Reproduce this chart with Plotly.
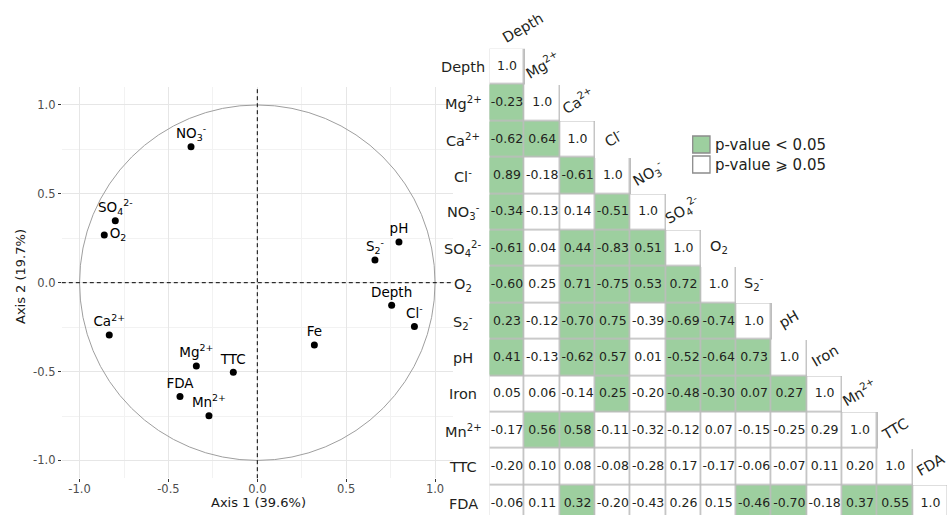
import plotly.graph_objects as go

# ---------------- data ----------------
# PCA correlation circle (variable loadings)
pca_labels = ["NO<sub>3</sub><sup>-</sup>", "SO<sub>4</sub><sup>2-</sup>", "O<sub>2</sub>", "pH",
              "S<sub>2</sub><sup>-</sup>", "Depth", "Cl<sup>-</sup>", "Fe", "Ca<sup>2+</sup>",
              "Mg<sup>2+</sup>", "TTC", "FDA", "Mn<sup>2+</sup>"]
pca_axis1 = [-0.373, -0.799, -0.861, 0.797, 0.662, 0.756, 0.884, 0.321, -0.833, -0.343, -0.135, -0.435, -0.272]
pca_axis2 = [0.765, 0.349, 0.268, 0.229, 0.128, -0.127, -0.247, -0.350, -0.294, -0.468, -0.504, -0.641, -0.748]

axis_tickvals = [-1.0, -0.5, 0.0, 0.5, 1.0]
axis_ticktext = ["-1.0", "-0.5", "0.0", "0.5", "1.0"]
axis1_title = "Axis 1 (39.6%)"
axis2_title = "Axis 2 (19.7%)"

# Correlation matrix (lower triangle) and significance (1 = p < 0.05)
var_names = ["Depth", "Mg<sup>2+</sup>", "Ca<sup>2+</sup>", "Cl<sup>-</sup>", "NO<sub>3</sub><sup>-</sup>",
             "SO<sub>4</sub><sup>2-</sup>", "O<sub>2</sub>", "S<sub>2</sub><sup>-</sup>", "pH", "Iron",
             "Mn<sup>2+</sup>", "TTC", "FDA"]
corr_rows = [
    [1.0],
    [-0.23, 1.0],
    [-0.62, 0.64, 1.0],
    [0.89, -0.18, -0.61, 1.0],
    [-0.34, -0.13, 0.14, -0.51, 1.0],
    [-0.61, 0.04, 0.44, -0.83, 0.51, 1.0],
    [-0.60, 0.25, 0.71, -0.75, 0.53, 0.72, 1.0],
    [0.23, -0.12, -0.70, 0.75, -0.39, -0.69, -0.74, 1.0],
    [0.41, -0.13, -0.62, 0.57, 0.01, -0.52, -0.64, 0.73, 1.0],
    [0.05, 0.06, -0.14, 0.25, -0.20, -0.48, -0.30, 0.07, 0.27, 1.0],
    [-0.17, 0.56, 0.58, -0.11, -0.32, -0.12, 0.07, -0.15, -0.25, 0.29, 1.0],
    [-0.20, 0.10, 0.08, -0.08, -0.28, 0.17, -0.17, -0.06, -0.07, 0.11, 0.20, 1.0],
    [-0.06, 0.11, 0.32, -0.20, -0.43, 0.26, 0.15, -0.46, -0.70, -0.18, 0.37, 0.55, 1.0],
]
sig_rows = [
    [0],
    [1, 0],
    [1, 1, 0],
    [1, 0, 1, 0],
    [1, 0, 0, 1, 0],
    [1, 0, 1, 1, 1, 0],
    [1, 0, 1, 1, 1, 1, 0],
    [1, 0, 1, 1, 0, 1, 1, 0],
    [1, 0, 1, 1, 0, 1, 1, 1, 0],
    [0, 0, 0, 1, 0, 1, 1, 1, 1, 0],
    [0, 1, 1, 0, 0, 0, 0, 0, 0, 0, 0],
    [0, 0, 0, 0, 0, 0, 0, 0, 0, 0, 0, 0],
    [0, 0, 1, 0, 0, 0, 0, 1, 1, 0, 1, 1, 0],
]
legend_labels = ["p-value < 0.05", "p-value \u2a7e 0.05"]

# ---------------- style / geometry ----------------
W, H = 947, 515
FONT = "DejaVu Sans"
GREEN = "#9dcf9f"
BORDER = "#bdbdbd"

def px_x(p):
    return p / W

def px_y(p):
    return 1 - p / H

# PCA panel in pixels
P_LEFT, P_RIGHT, P_TOP, P_BOTTOM = 61.8, 452.8, 87.2, 478.2
# matrix geometry in pixels
M_LEFT, CELL_W, M_TOP, CELL_H = 489.3, 35.3, 48.5, 36.4
n = len(var_names)

text_pos = ["top center"] * len(pca_labels)
text_pos[2] = "middle right"

fig = go.Figure()

# ---- PCA loadings ----
fig.add_trace(go.Scatter(
    x=pca_axis1, y=pca_axis2, mode="markers+text",
    text=pca_labels, textposition=text_pos,
    textfont=dict(family=FONT, size=13.5, color="#000000"),
    marker=dict(size=7, color="#000000"),
    hoverinfo="skip", showlegend=False, cliponaxis=False,
    xaxis="x", yaxis="y",
))

# ---- correlation matrix ----
mask_z, sig_z = [], []
val_x, val_y, val_t = [], [], []
for i in range(n):
    mrow, srow = [], []
    for j in range(n):
        if j <= i:
            mrow.append(1)
            srow.append(sig_rows[i][j])
            v = corr_rows[i][j]
            val_x.append(j)
            val_y.append(i)
            val_t.append("1.0" if i == j else f"{v:.2f}")
        else:
            mrow.append(None)
            srow.append(None)
    mask_z.append(mrow)
    sig_z.append(srow)

idx = list(range(n))
fig.add_trace(go.Heatmap(
    z=mask_z, x=idx, y=idx, colorscale=[[0, BORDER], [1, BORDER]],
    zmin=0, zmax=1, showscale=False, hoverinfo="skip",
    xaxis="x2", yaxis="y2",
))
fig.add_trace(go.Heatmap(
    z=sig_z, x=idx, y=idx, colorscale=[[0, "#ffffff"], [1, GREEN]],
    zmin=0, zmax=1, showscale=False, hoverinfo="skip",
    xgap=1.6, ygap=1.6,
    xaxis="x2", yaxis="y2",
))
fig.add_trace(go.Scatter(
    x=val_x, y=val_y, text=val_t, mode="text",
    textfont=dict(family=FONT, size=12.5, color="#231f20"),
    hoverinfo="skip", showlegend=False, cliponaxis=True,
    xaxis="x2", yaxis="y2",
))

grid_major = "#e6e6e6"
grid_minor = "#f2f2f2"
common_axis = dict(
    range=[-1.1, 1.1], tickvals=axis_tickvals, ticktext=axis_ticktext,
    showgrid=True, gridcolor=grid_major, gridwidth=1,
    minor=dict(tickvals=[-0.75, -0.25, 0.25, 0.75], showgrid=True, gridcolor=grid_minor, gridwidth=0.8),
    zeroline=False, showline=False, ticks="outside", ticklen=3, tickwidth=1, tickcolor="#333333",
    tickfont=dict(family=FONT, size=11.5, color="#4d4d4d"),
)

fig.update_layout(
    width=W, height=H, margin=dict(l=0, r=0, t=0, b=0),
    paper_bgcolor="white", plot_bgcolor="white", showlegend=False,
    xaxis=dict(domain=[px_x(P_LEFT), px_x(P_RIGHT)], anchor="y", ticklabelstandoff=-3, **common_axis),
    yaxis=dict(domain=[px_y(P_BOTTOM), px_y(P_TOP)], anchor="x", **common_axis),
    xaxis2=dict(domain=[px_x(M_LEFT), 1], range=[-0.5, -0.5 + (W - M_LEFT) / CELL_W],
                visible=False, anchor="y2"),
    yaxis2=dict(domain=[0, px_y(M_TOP)], range=[-0.5 + (H - M_TOP) / CELL_H, -0.5],
                visible=False, anchor="x2"),
)

shapes = [
    dict(type="circle", xref="x", yref="y", x0=-1, y0=-1, x1=1, y1=1,
         line=dict(color="#9e9e9e", width=1)),
    dict(type="line", xref="x", yref="y domain", x0=0, x1=0, y0=0, y1=1,
         line=dict(color="#000000", width=1, dash="4px,3px")),
    dict(type="line", xref="x domain", yref="y", x0=0, x1=1, y0=0, y1=0,
         line=dict(color="#000000", width=1, dash="4px,3px")),
]
# legend keys
for k, col in enumerate([GREEN, "#ffffff"]):
    top = 136 + k * 20
    shapes.append(dict(type="rect", xref="paper", yref="paper",
                       x0=px_x(692.7), x1=px_x(710), y0=px_y(top + 17), y1=px_y(top),
                       fillcolor=col, line=dict(color="#8c8c8c", width=1.3)))
fig.update_layout(shapes=shapes)

ann = []
# axis titles
ann.append(dict(text=axis1_title, xref="paper", yref="paper", x=px_x(258), y=px_y(502),
                xanchor="center", yanchor="middle",
                showarrow=False, font=dict(family=FONT, size=13, color="#1a1a1a")))
ann.append(dict(text=axis2_title, xref="paper", yref="paper", x=px_x(20), y=px_y(277),
                xanchor="center", yanchor="middle",
                textangle=-90, showarrow=False, font=dict(family=FONT, size=13, color="#1a1a1a")))
# row labels
for i, name in enumerate(var_names):
    ann.append(dict(text=name, xref="paper", yref="y2", x=px_x(463), y=i,
                    xanchor="center", yanchor="middle",
                    showarrow=False, font=dict(family=FONT, size=14.5, color="#231f20")))
# column labels (above diagonal cells)
for j, name in enumerate(var_names):
    angle = 0 if j in (6, 7) else -30
    ycen = M_TOP + CELL_H * (j - 1) + CELL_H / 2
    ann.append(dict(text=name, xref="x2", yref="paper", x=j, y=px_y(ycen),
                    xanchor="center", yanchor="middle",
                    xshift=16 if j == 0 else 0, yshift=2, textangle=angle,
                    showarrow=False, font=dict(family=FONT, size=14.5, color="#231f20")))
# legend text
for k, lab in enumerate(legend_labels):
    ann.append(dict(text=lab, xref="paper", yref="paper", x=px_x(713), y=px_y(144.5 + k * 20),
                    xanchor="left", yanchor="middle", showarrow=False,
                    font=dict(family=FONT, size=15, color="#231f20")))
fig.update_layout(annotations=ann)

fig.write_html("out.html", config={"displayModeBar": False},
               post_script="document.body.style.margin='0px';")
